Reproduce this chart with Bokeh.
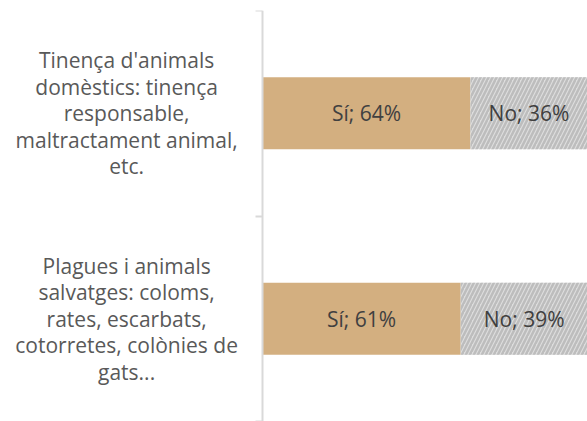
from bokeh.plotting import figure
from bokeh.models import Range1d, FixedTicker, ColumnDataSource
from bokeh.core.properties import value
from bokeh.embed import file_html
from bokeh.resources import INLINE

categories = [
    "Tinença d'animals\ndomèstics: tinença\nresponsable,\nmaltractament animal,\netc.",
    "Plagues i animals\nsalvatges: coloms,\nrates, escarbats,\ncotorretes, colònies de\ngats...",
]
si_values = [64, 61]
no_values = [36, 39]
series_names = ["Sí", "No"]

n = len(categories)
ypos = [n - 1 - i for i in range(n)]

p = figure(width=587, height=421, output_backend="svg", toolbar_location=None,
           x_range=Range1d(-80.6, 100), y_range=Range1d(-0.5, n - 0.5),
           min_border_left=0, min_border_right=0, min_border_top=10, min_border_bottom=0)
p.outline_line_color = None
p.grid.visible = False
p.xaxis.visible = False
p.background_fill_color = None
p.border_fill_color = None

src = ColumnDataSource(dict(
    y=ypos,
    si_end=si_values,
    no_end=[a + b for a, b in zip(si_values, no_values)],
    si_mid=[a / 2 for a in si_values],
    no_mid=[a + b / 2 for a, b in zip(si_values, no_values)],
    si_lab=[f"{series_names[0]}; {v}%" for v in si_values],
    no_lab=[f"{series_names[1]}; {v}%" for v in no_values],
    cat=categories,
))

p.hbar(y="y", left=0, right="si_end", height=0.35, source=src,
       fill_color="#D3AF80", line_color=None)
p.hbar(y="y", left="si_end", right="no_end", height=0.35, source=src,
       fill_color="#DDDDDD", line_color=None,
       hatch_pattern="right_diagonal_line", hatch_color="#BDBDBD",
       hatch_scale=8, hatch_weight=2.5)

p.text(x="si_mid", y="y", text="si_lab", source=src, text_align="center",
       text_baseline="middle", text_font=value("Open Sans"),
       text_font_size="21px", text_color="#404040")
p.text(x="no_mid", y="y", text="no_lab", source=src, text_align="center",
       text_baseline="middle", text_font=value("Open Sans"),
       text_font_size="21px", text_color="#404040")

p.text(x=-41.8, y="y", text="cat", source=src, text_align="center",
       text_baseline="middle", text_font=value("Open Sans"),
       text_font_size="21px", text_color="#595959", text_line_height=0.95)

ticks = [i - 0.5 for i in range(n + 1)]
yax = p.yaxis[0]
yax.fixed_location = 0
yax.ticker = FixedTicker(ticks=ticks)
yax.major_label_overrides = {t: "" for t in ticks}
yax.axis_line_color = "#D9D9D9"
yax.axis_line_width = 2
yax.major_tick_line_color = "#D9D9D9"
yax.major_tick_line_width = 2
yax.major_tick_in = 0
yax.major_tick_out = 7
yax.minor_tick_line_color = None

open("out.html", "w").write(file_html(p, INLINE))
